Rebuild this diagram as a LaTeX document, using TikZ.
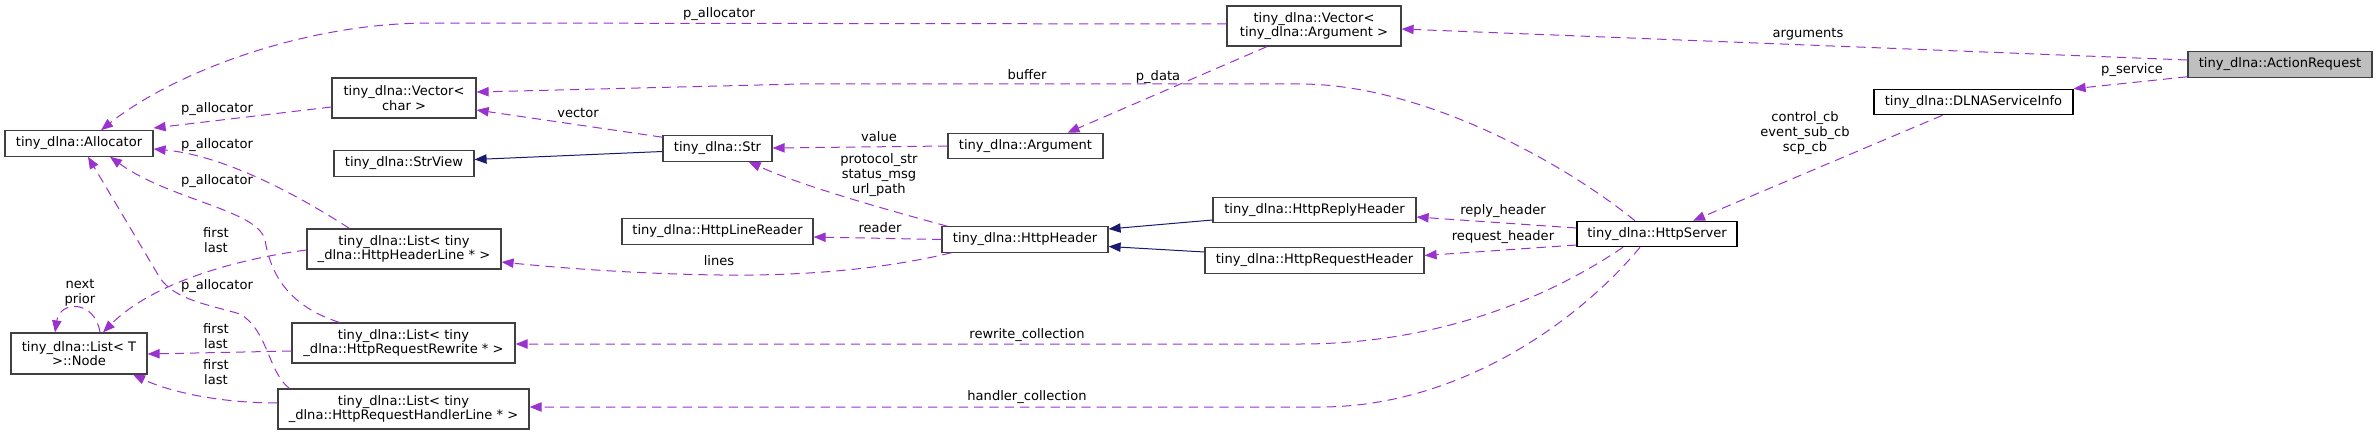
\documentclass[tikz,border=0pt]{standalone}
\usepackage{fontspec}
\setmainfont{DejaVu Sans}
\usetikzlibrary{
    arrows.meta,
    calc
}
\definecolor{edgepurple}{HTML}{9A32CD}
\definecolor{inhblue}{HTML}{191970}
\definecolor{boxgray}{HTML}{404040}
\definecolor{focusfill}{HTML}{BFBFBF}

\begin{document}
\begin{tikzpicture}[
    x=0.75pt, y=-0.75pt,
    every node/.style={font=\fontsize{9.8}{11}\selectfont},
    cls/.style={rectangle, draw=boxgray, line width=0.9pt, inner sep=0pt,
      align=center, minimum height=19pt},
    twoline/.style={cls, minimum height=30pt},
    clsdoc/.style={cls, draw=black},
    focus/.style={cls, fill=focusfill},
    lbl/.style={inner sep=0pt, align=center},
    uses/.style={-{Triangle[length=9pt,width=7pt]}, color=edgepurple,
      dash pattern=on 7pt off 4.5pt, line width=0.75pt},
    inherits/.style={-{Triangle[length=9pt,width=7pt]}, color=inhblue,
      line width=0.75pt}
]
\useasboundingbox (0,0) rectangle (2377,435);

% classes
\node[focus, minimum width=138pt] (action) at (2280,64.5) {tiny\_dlna::ActionRequest};
\node[twoline, minimum width=130.5pt] (vecarg) at (1314,26) {tiny\_dlna::Vector<\\ tiny\_dlna::Argument >};
\node[clsdoc, minimum width=149.25pt] (dlna) at (1973.5,102) {tiny\_dlna::DLNAServiceInfo};
\node[clsdoc, minimum width=120pt] (server) at (1657,234) {tiny\_dlna::HttpServer};
\node[cls, minimum width=152.25pt] (reply) at (1314.5,210) {tiny\_dlna::HttpReplyHeader};
\node[cls, minimum width=164.25pt] (request) at (1314.5,260.5) {tiny\_dlna::HttpRequestHeader};
\node[cls, minimum width=116.25pt] (argument) at (1025.5,146) {tiny\_dlna::Argument};
\node[cls, minimum width=124.5pt] (httpheader) at (1025,239.5) {tiny\_dlna::HttpHeader};
\node[cls, minimum width=81.75pt] (str) at (717.5,148.5) {tiny\_dlna::Str};
\node[cls, minimum width=143.25pt] (linereader) at (717.5,231.5) {tiny\_dlna::HttpLineReader};
\node[twoline, minimum width=108pt] (vecchar) at (404,98) {tiny\_dlna::Vector<\\char >};
\node[cls, minimum width=105pt] (strview) at (404,163.5) {tiny\_dlna::StrView};
\node[twoline, minimum width=145.5pt] (listhdr) at (404,249) {tiny\_dlna::List< tiny\\\_dlna::HttpHeaderLine * >};
\node[twoline, minimum width=167.25pt] (listrw) at (403.5,343) {tiny\_dlna::List< tiny\\\_dlna::HttpRequestRewrite * >};
\node[twoline, minimum width=188.25pt] (listhdl) at (403.5,409) {tiny\_dlna::List< tiny\\\_dlna::HttpRequestHandlerLine * >};
\node[cls, minimum width=111pt] (alloc) at (79,143.5) {tiny\_dlna::Allocator};
\node[twoline, minimum width=102pt, minimum height=30.75pt] (lnode) at (79,353.5) {tiny\_dlna::List< T\\>::Node};

% members
\draw[uses] ($(action.west)+(0,-4.5)$) -- ($(vecarg.east)+(0,3)$);
\draw[uses] ($(action.south west)+(0,-1)$) -- (dlna.north east);
\draw[uses] ($(dlna.south)+(-31,0)$) -- ($(server.north)+(36,0)$);
\draw[uses] ($(vecarg.west)+(0,-2)$) -- (430,23) .. controls (300,23) and (170,75) .. ($(alloc.north)+(22,0)$);
\draw[uses] ($(vecarg.south)+(-47,0)$) -- ($(argument.north)+(42,0)$);
\draw[uses] ($(server.north)+(-22,0)$) .. controls (1560,160) and (1420,84) .. (1300,84) -- (800,84) -- ($(vecchar.east)+(0,-6)$);
\draw[uses] ($(str.north west)+(0,2)$) -- ($(vecchar.east)+(0,12)$);
\draw[uses] (argument.west) -- ($(str.east)+(0,-0.5)$);
\draw[uses] ($(httpheader.north west)+(6,0)$) .. controls (880,208) and (800,185) .. ($(str.south east)+(-24,0)$);
\draw[uses] (httpheader.west) -- ($(linereader.east)+(0,5.5)$);
\draw[uses] ($(httpheader.south west)+(10,0)$) .. controls (880,270) and (800,276) .. (720,275) .. controls (640,274) and (560,268) .. ($(listhdr.east)+(0,13)$);
\draw[uses] ($(server.west)+(0,-6)$) -- ($(reply.east)+(0,7)$);
\draw[uses] ($(server.west)+(0,11)$) -- ($(request.east)+(0,-5)$);
\draw[uses] ($(server.south)+(-34,0)$) .. controls (1560,290) and (1450,344) .. (1300,344) -- ($(listrw.east)+(0,1)$);
\draw[uses] ($(server.south)+(-17,0)$) .. controls (1580,320) and (1460,407) .. (1320,407) -- ($(listhdl.east)+(0,-2)$);
\draw[uses] ($(vecchar.west)+(0,9)$) -- ($(alloc.east)+(0,-15.5)$);
\draw[uses] ($(listhdr.north west)+(43,0)$) .. controls (290,190) and (220,155) .. ($(alloc.east)+(0,5.5)$);
\draw[uses] ($(listrw.north west)+(48,0)$) .. controls (285,305) and (270,270) .. (265,240) .. controls (258,210) and (170,200) .. ($(alloc.south)+(31,0)$);
\draw[uses] ($(listhdl.north west)+(12,0)$) .. controls (268,372) and (268,330) .. (240,314) .. controls (210,305) and (175,300) .. (160,278) -- ($(alloc.south)+(9,0)$);
\draw[uses] ($(listhdr.west)+(0,1)$) .. controls (230,260) and (150,285) .. ($(lnode.north)+(24,0)$);
\draw[uses] ($(listrw.west)+(0,8)$) -- ($(lnode.east)+(0,0.5)$);
\draw[uses] ($(listhdl.west)+(0,-6)$) .. controls (220,403) and (170,392) .. ($(lnode.south)+(54,0)$);
\draw[uses] ($(lnode.north)+(21,0)$) .. controls (95,300) and (60,300) .. ($(lnode.north)+(-24,0)$);

% inheritance
\draw[inherits] ($(str.west)+(0,3)$) -- ($(strview.east)+(0,-4)$);
\draw[inherits] ($(reply.west)+(0,10)$) -- ($(httpheader.east)+(0,-10.5)$);
\draw[inherits] ($(request.west)+(0,-8.5)$) -- ($(httpheader.east)+(0,7)$);

% edge labels
\node[lbl] (lArgs) at (1808,34) {arguments};
\node[lbl] (lService) at (2132,70) {p\_service};
\node[lbl] (lCb) at (1805,133) {control\_cb\\event\_sub\_cb\\scp\_cb};
\node[lbl] (lAllocTop) at (719,14) {p\_allocator};
\node[lbl] (lData) at (1158,77) {p\_data};
\node[lbl] (lBuffer) at (1027,75) {buffer};
\node[lbl] (lVector) at (578,113) {vector};
\node[lbl] (lValue) at (879,137) {value};
\node[lbl] (lStrs) at (879,175) {protocol\_str\\status\_msg\\url\_path};
\node[lbl] (lReader) at (880,228) {reader};
\node[lbl] (lLines) at (719,261) {lines};
\node[lbl] (lReply) at (1503,211) {reply\_header};
\node[lbl] (lRequest) at (1503,237) {request\_header};
\node[lbl] (lRewrite) at (1027,335) {rewrite\_collection};
\node[lbl] (lHandler) at (1027,397) {handler\_collection};
\node[lbl] (lAllocA) at (217,109) {p\_allocator};
\node[lbl] (lAllocB) at (217,145) {p\_allocator};
\node[lbl] (lAllocC) at (217,181) {p\_allocator};
\node[lbl] (lAllocD) at (217,286) {p\_allocator};
\node[lbl] (lFirstA) at (216,240) {first\\last};
\node[lbl] (lFirstB) at (216,336) {first\\last};
\node[lbl] (lFirstC) at (216,372) {first\\last};
\node[lbl] (lNext) at (80,293) {next\\prior};
\end{tikzpicture}
\end{document}
